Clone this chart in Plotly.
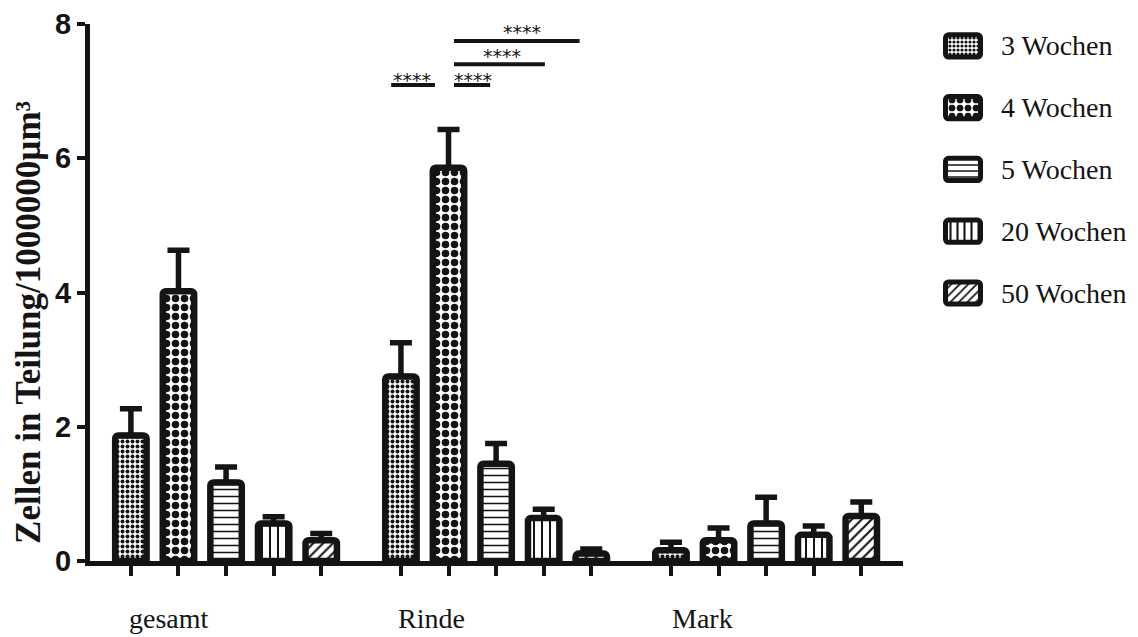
import plotly.graph_objects as go

# ---------------- data ----------------
groups = ["gesamt", "Rinde", "Mark"]
series = ["3 Wochen", "4 Wochen", "5 Wochen", "20 Wochen", "50 Wochen"]

means_3w = [1.87, 2.75, 0.16]
means_4w = [4.02, 5.86, 0.31]
means_5w = [1.17, 1.45, 0.56]
means_20w = [0.56, 0.64, 0.39]
means_50w = [0.31, 0.11, 0.67]

sem_3w = [0.40, 0.50, 0.12]
sem_4w = [0.61, 0.57, 0.18]
sem_5w = [0.23, 0.30, 0.39]
sem_20w = [0.10, 0.13, 0.13]
sem_50w = [0.10, 0.07, 0.21]

y_ticks = [0, 2, 4, 6, 8]
y_title = "Zellen in Teilung/1000000µm³"

# significance brackets (in bar-position units / y units)
sig_x0 = [5.47, 6.79, 6.79, 6.79]
sig_x1 = [6.39, 7.55, 8.70, 9.43]
sig_y = [7.09, 7.09, 7.40, 7.745]
sig_label_x = [5.91, 7.19, 7.80, 8.22]
sig_label_y = [7.18, 7.18, 7.54, 7.895]
sig_label = ["****", "****", "****", "****"]

means = [means_3w, means_4w, means_5w, means_20w, means_50w]
sems = [sem_3w, sem_4w, sem_5w, sem_20w, sem_50w]

# ---------------- layout constants ----------------
W, H = 1138, 637
ML, MR, MT, MB = 90, 8, 22, 76
PW, PH = W - ML - MR, H - MT - MB
INK = "#141414"
GROUP_STEP = 5.675
PX_PER_UNIT = 47.7
BAR_W = 0.66

patterns = [
    dict(shape=".", size=5, solidity=0.5),
    dict(shape=".", size=9, solidity=0.55),
    dict(shape="-", size=7, solidity=0.22),
    dict(shape="|", size=8, solidity=0.25),
    dict(shape="/", size=7, solidity=0.3),
]
legend_patterns = [
    dict(shape=".", size=4, solidity=0.5),
    dict(shape=".", size=8, solidity=0.55),
    dict(shape="-", size=6, solidity=0.25),
    dict(shape="|", size=7, solidity=0.3),
    dict(shape="/", size=6, solidity=0.3),
]

fig = go.Figure()

all_x = []
for i, name in enumerate(series):
    xs = [g * GROUP_STEP + i for g in range(len(groups))]
    all_x += xs
    fig.add_trace(go.Bar(
        x=xs, y=means[i], width=BAR_W, name=name, showlegend=False,
        marker=dict(color="white",
                    line=dict(color=INK, width=6.5),
                    pattern=dict(fgcolor=INK, bgcolor="white", fillmode="replace", **patterns[i])),
        error_y=dict(type="data", array=sems[i], arrayminus=[0] * len(groups),
                     symmetric=False, thickness=5.5, width=11, color=INK),
    ))

# legend swatches drawn as horizontal bars in a small side subplot
for i, name in enumerate(series):
    fig.add_trace(go.Bar(
        x=[1], y=[i], base=0, orientation="h", width=0.36, showlegend=False,
        xaxis="x2", yaxis="y2", hoverinfo="skip",
        marker=dict(color="white", line=dict(color=INK, width=5),
                    pattern=dict(fgcolor=INK, bgcolor="white", fillmode="replace", **legend_patterns[i])),
    ))

x_left = -(129 - 88) / PX_PER_UNIT
x_right = (903 - 129) / PX_PER_UNIT
main_dom_end = (903 - ML) / PW

def px_to_xpaper(px):
    return (px - ML) / PW

def py_to_ypaper(py):
    return (H - MB - py) / PH

annotations = []
# group labels
group_label_offsets = [0.80, 0.65, 0.67]
for g, lab in enumerate(groups):
    annotations.append(dict(
        x=g * GROUP_STEP + group_label_offsets[g], y=py_to_ypaper(619), xref="x", yref="paper",
        text=lab, showarrow=False, xanchor="center", yanchor="middle",
        font=dict(family="Liberation Serif", size=28, color=INK)))

# y-axis title
annotations.append(dict(
    x=px_to_xpaper(29), y=py_to_ypaper(322), xref="paper", yref="paper", text=y_title,
    textangle=-90, showarrow=False, xanchor="center", yanchor="middle",
    font=dict(family="Liberation Serif", size=35, color=INK, weight="bold")))

# significance
shapes = []
for k in range(len(sig_x0)):
    shapes.append(dict(type="line", xref="x", yref="y", x0=sig_x0[k], x1=sig_x1[k],
                       y0=sig_y[k], y1=sig_y[k], line=dict(color=INK, width=4)))
    annotations.append(dict(x=sig_label_x[k], y=sig_label_y[k], xref="x", yref="y", text=sig_label[k],
                            showarrow=False, xanchor="center", yanchor="middle", yshift=-1,
                            borderpad=0,
                            font=dict(family="DejaVu Sans", size=19, color=INK)))

# legend text
lx0, lx1 = 940, 986
leg_range = [-5.5 / 35, 1 + 5.5 / 35]
for i, name in enumerate(series):
    annotations.append(dict(x=px_to_xpaper(999), y=i, xref="paper", yref="y2", text=name,
                            showarrow=False, xanchor="left", yanchor="middle",
                            font=dict(family="Liberation Serif", size=28, color=INK)))

leg_top_px, leg_bot_px = MT, 323
rows_top = (44 - leg_top_px) / 62.0
rows_span = (leg_bot_px - leg_top_px) / 62.0

fig.update_layout(
    width=W, height=H,
    margin=dict(l=ML, r=MR, t=MT, b=MB),
    paper_bgcolor="white", plot_bgcolor="white",
    barmode="overlay", barcornerradius=3,
    showlegend=False,
    xaxis=dict(domain=[0, main_dom_end], range=[x_left, x_right], showgrid=False, zeroline=False,
               showline=True, linecolor=INK, linewidth=5,
               tickmode="array", tickvals=all_x, ticktext=[""] * len(all_x),
               ticks="outside", ticklen=10, tickwidth=4, tickcolor=INK, fixedrange=True),
    yaxis=dict(range=[0, 8], showgrid=False, zeroline=False, showline=True, linecolor=INK,
               linewidth=5, tickmode="array", tickvals=y_ticks, ticks="outside", ticklen=8,
               tickwidth=4, tickcolor=INK,
               tickfont=dict(family="Liberation Sans", size=29, color=INK, weight="bold")),
    xaxis2=dict(domain=[px_to_xpaper(lx0), px_to_xpaper(lx1)], range=leg_range, anchor="y2",
                visible=False, fixedrange=True),
    yaxis2=dict(domain=[py_to_ypaper(leg_bot_px), 1], anchor="x2", visible=False,
                range=[rows_span - rows_top, -rows_top], fixedrange=True),
    shapes=shapes,
    annotations=annotations,
)

fig.write_html("out.html")
